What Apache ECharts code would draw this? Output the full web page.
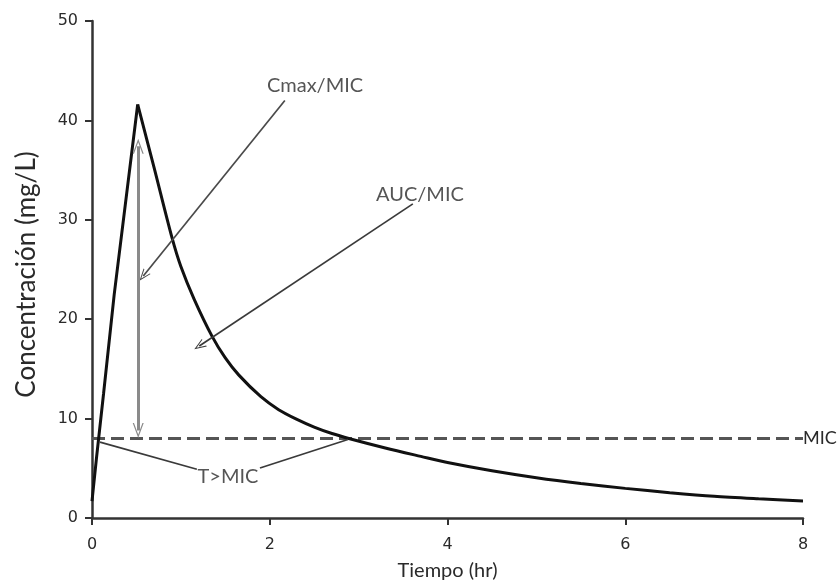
<!DOCTYPE html>
<html>
<head>
<meta charset="utf-8">
<script src="https://cdn.jsdelivr.net/npm/echarts@6/dist/echarts.min.js"></script>
<style>
html,body{margin:0;padding:0;background:#fff;}
#chart{width:840px;height:586px;}
</style>
</head>
<body>
<div id="chart"></div>
<script>
// ---- data ----
const riseTime = [0, 0.05, 0.13, 0.25, 0.514];
const riseConc = [1.7, 6, 12.5, 22.5, 41.6];
const decayTime = [0.514, 0.7, 0.9, 1.0, 1.15, 1.35, 1.5, 1.65, 1.9, 2.1, 2.3, 2.5, 2.7, 2.9, 3.3, 3.7, 4.0, 4.5, 5.0, 5.5, 6.0, 6.5, 7.0, 7.5, 8.0];
const decayConc = [41.6, 35.2, 28.2, 25.3, 22.0, 18.3, 16.1, 14.4, 12.2, 10.9, 9.95, 9.15, 8.5, 7.98, 7.05, 6.2, 5.58, 4.75, 4.05, 3.47, 2.98, 2.55, 2.18, 1.93, 1.72];
const micValue = 8;
const micTimeRange = [0, 8];
const xTicks = [0, 2, 4, 6, 8];
const yTicks = [0, 10, 20, 30, 40, 50];
const annotationLabels = ['Cmax/MIC', 'AUC/MIC', 'T>MIC'];
const annotationAnchors = [[2.51, 43.5], [3.69, 32.5], [1.53, 4.14]];
const cmaxArrow = [[2.17, 42.0], [0.577, 24.35]];
const aucArrow = [[3.61, 31.6], [1.207, 17.3]];
const cmaxSpan = [[0.52, 8.8], [0.52, 37.4]];
const tmicLeft = [[1.18, 4.9], [0.09, 7.64]];
const tmicRight = [[1.89, 5.03], [2.88, 7.9]];

// ---- build ----
const zip = (a, b) => a.map((v, i) => [v, b[i]]);
const vArrow = 'path://M0,0 L6,12 L4.6,12 L0,2.8 L-4.6,12 L-6,12 Z';
const FONT = 'Lato';
const TICKFONT = 'DejaVu Sans';
const TXT = '#2a2a2a';

function arrowLine(pts, color, width, startSym, endSym, size) {
  const s = size || [9, 12];
  return [
    { coord: pts[0], symbol: startSym, symbolSize: s, lineStyle: { color: color, width: width, type: 'solid' }, itemStyle: { color: color } },
    { coord: pts[1], symbol: endSym, symbolSize: s, itemStyle: { color: color } }
  ];
}

const chart = echarts.init(document.getElementById('chart'));
chart.setOption({
  backgroundColor: '#fff',
  animation: false,
  grid: { left: 92, right: 37, top: 21, bottom: 66.5 },
  xAxis: {
    type: 'value', min: xTicks[0], max: xTicks[xTicks.length - 1], interval: 2,
    name: 'Tiempo (hr)', nameLocation: 'middle', nameGap: 43,
    nameTextStyle: { fontFamily: FONT, fontSize: 20, color: TXT },
    axisLine: { lineStyle: { color: '#333', width: 2.5 } },
    axisTick: { show: true, length: 7, lineStyle: { color: '#333', width: 2 } },
    axisLabel: { fontFamily: TICKFONT, fontSize: 16, color: TXT, margin: 19 },
    splitLine: { show: false }
  },
  yAxis: {
    type: 'value', min: yTicks[0], max: yTicks[yTicks.length - 1], interval: 10,
    name: 'Concentración (mg/L)', nameLocation: 'middle', nameGap: 52,
    nameTextStyle: { fontFamily: FONT, fontSize: 26, color: TXT, padding: [0, 10, 0, 0] },
    axisLine: { show: true, lineStyle: { color: '#333', width: 2.5 } },
    axisTick: { show: true, length: 7, lineStyle: { color: '#333', width: 2 } },
    axisLabel: { fontFamily: TICKFONT, fontSize: 16, color: TXT, margin: 14 },
    splitLine: { show: false }
  },
  series: [
    {
      name: 'MIC', type: 'line', data: micTimeRange.map(t => [t, micValue]),
      symbol: 'none', silent: true, z: 3,
      lineStyle: { color: '#555', width: 3, type: [13, 6] },
      endLabel: { show: true, formatter: 'MIC', fontFamily: FONT, fontSize: 18, color: TXT, distance: 0 }
    },
    {
      name: 'rise', type: 'line', data: zip(riseTime, riseConc),
      symbol: 'none', silent: true, z: 4,
      lineStyle: { color: '#111', width: 3 }
    },
    {
      name: 'decay', type: 'line', data: zip(decayTime, decayConc),
      symbol: 'none', silent: true, smooth: 0.3, z: 4,
      lineStyle: { color: '#111', width: 3 },
      markLine: {
        silent: true, animation: false,
        label: { show: false },
        data: [
          arrowLine(cmaxArrow, '#4a4a4a', 1.7, 'none', vArrow),
          arrowLine(aucArrow, '#3a3a3a', 1.7, 'none', vArrow),
          arrowLine(cmaxSpan, '#8a8a8a', 3, vArrow, vArrow, [11, 15]),
          arrowLine(tmicLeft, '#3a3a3a', 1.7, 'none', 'none'),
          arrowLine(tmicRight, '#3a3a3a', 1.7, 'none', 'none')
        ]
      }
    },
    {
      name: 'annotations', type: 'scatter', symbolSize: 0, silent: true, z: 5,
      data: annotationLabels.map((n, i) => ({ name: n, value: annotationAnchors[i] })),
      label: {
        show: true, position: 'inside', formatter: p => p.name,
        fontFamily: FONT, fontSize: 20, color: TXT
      }
    }
  ]
});
</script>
</body>
</html>
